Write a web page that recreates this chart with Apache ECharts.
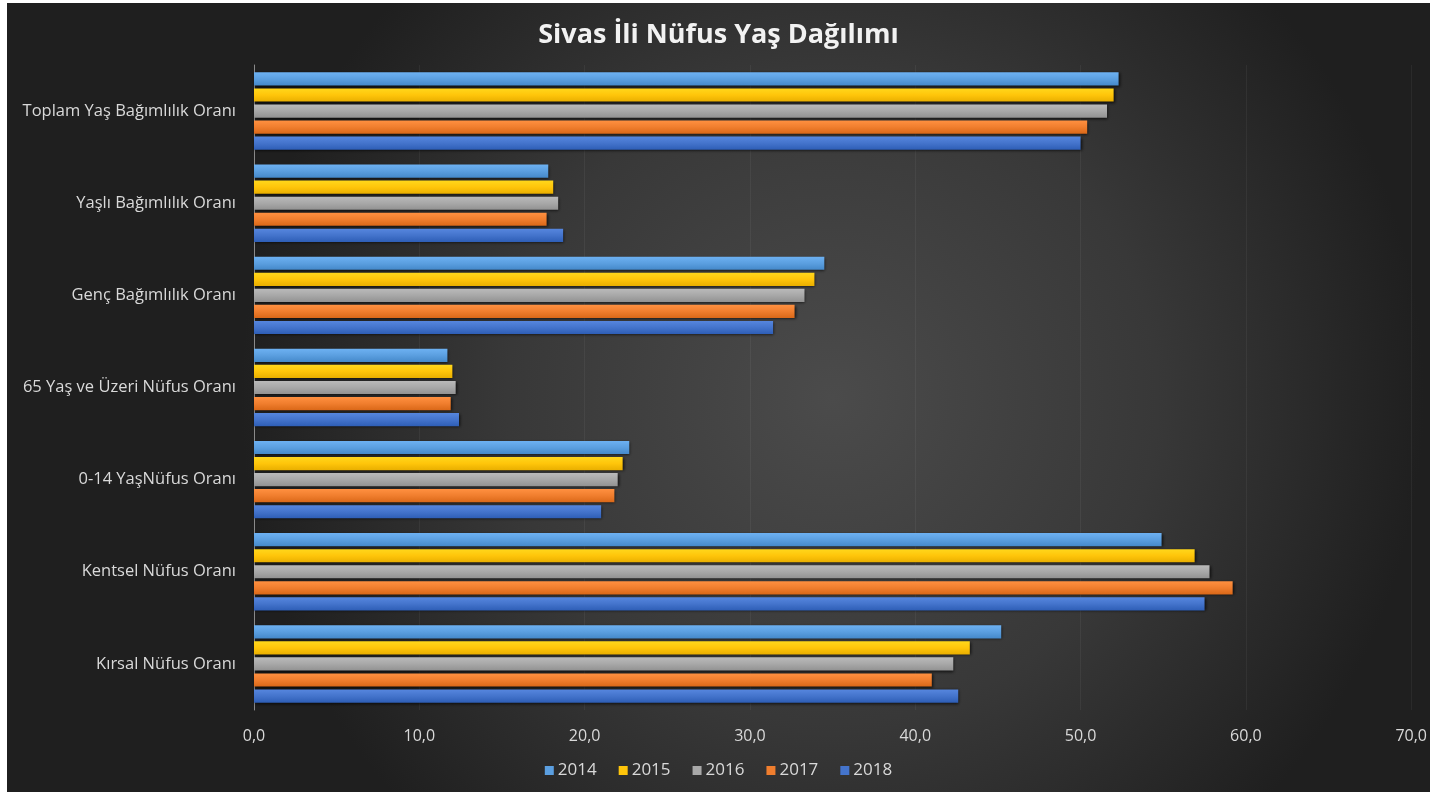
<!DOCTYPE html>
<html>
<head>
<meta charset="utf-8">
<script src="https://cdn.jsdelivr.net/npm/echarts@6/dist/echarts.min.js"></script>
<style>
  html, body { margin: 0; padding: 0; background: #ffffff; }
  #chart { position: absolute; left: 7px; top: 3px; width: 1423px; height: 789px; }
</style>
</head>
<body>
<div id="chart"></div>
<script>
// Categories, listed top to bottom
const categories = [
  'Toplam Yaş Bağımlılık Oranı',
  'Yaşlı Bağımlılık Oranı',
  'Genç Bağımlılık Oranı',
  '65 Yaş ve Üzeri Nüfus Oranı',
  '0-14 YaşNüfus Oranı',
  'Kentsel Nüfus Oranı',
  'Kırsal Nüfus Oranı'
];

const years = ['2014', '2015', '2016', '2017', '2018'];

// Ratios (%) per year, same order as categories
const values2014 = [52.3, 17.8, 34.5, 11.7, 22.7, 54.9, 45.2];
const values2015 = [52.0, 18.1, 33.9, 12.0, 22.3, 56.9, 43.3];
const values2016 = [51.6, 18.4, 33.3, 12.2, 22.0, 57.8, 42.3];
const values2017 = [50.4, 17.7, 32.7, 11.9, 21.8, 59.2, 41.0];
const values2018 = [50.0, 18.7, 31.4, 12.4, 21.0, 57.5, 42.6];

const xTicks = { min: 0, max: 70, interval: 10 };

const palette = ['#5b9fe0', '#ffc50a', '#a8a8a8', '#f07e2e', '#4474cc'];
const allValues = [values2014, values2015, values2016, values2017, values2018];

function shade(hex, amt) {
  const n = parseInt(hex.slice(1), 16);
  let r = (n >> 16) & 255, g = (n >> 8) & 255, b = n & 255;
  r = Math.max(0, Math.min(255, Math.round(r + amt)));
  g = Math.max(0, Math.min(255, Math.round(g + amt)));
  b = Math.max(0, Math.min(255, Math.round(b + amt)));
  return 'rgb(' + r + ',' + g + ',' + b + ')';
}

const series = years.map((y, i) => ({
  name: y,
  type: 'bar',
  data: allValues[i],
  barCategoryGap: '16%',
  barGap: '22%',
  itemStyle: {
    color: {
      type: 'linear', x: 0, y: 0, x2: 0, y2: 1,
      colorStops: [
        { offset: 0, color: shade(palette[i], 18) },
        { offset: 0.5, color: palette[i] },
        { offset: 1, color: shade(palette[i], -22) }
      ]
    },
    shadowColor: 'rgba(0,0,0,0.75)',
    shadowBlur: 3,
    shadowOffsetX: 1,
    shadowOffsetY: 1
  }
}));

const chart = echarts.init(document.getElementById('chart'));
chart.setOption({
  animation: false,
  backgroundColor: {
    type: 'radial', x: 0.58, y: 0.5, r: 0.75,
    colorStops: [
      { offset: 0, color: '#4b4b4b' },
      { offset: 0.55, color: '#383838' },
      { offset: 1, color: '#1f1f1f' }
    ]
  },
  color: palette,
  title: {
    text: 'Sivas İli Nüfus Yaş Dağılımı',
    left: 'center',
    top: 14,
    textStyle: {
      color: '#f2f2f2',
      fontFamily: 'Open Sans',
      fontWeight: 'bold',
      fontSize: 27
    }
  },
  legend: {
    data: years.map((y, i) => ({ name: y, itemStyle: { color: palette[i], shadowBlur: 0 } })),
    bottom: 8,
    left: 'center',
    icon: 'rect',
    itemWidth: 9,
    itemHeight: 9,
    itemGap: 22,
    textStyle: { color: '#d9d9d9', fontFamily: 'Open Sans', fontSize: 17, padding: [0, 0, 0, -1] }
  },
  grid: { left: 247, right: 15, top: 62, bottom: 82, containLabel: false },
  xAxis: {
    type: 'value',
    min: xTicks.min,
    max: xTicks.max,
    interval: xTicks.interval,
    axisLine: { show: false },
    axisTick: { show: false },
    splitLine: { show: true, lineStyle: { color: 'rgba(255,255,255,0.05)', width: 1 } },
    axisLabel: {
      color: '#d9d9d9',
      fontFamily: 'Open Sans',
      fontSize: 16,
      margin: 18,
      formatter: v => v.toFixed(1).replace('.', ',')
    }
  },
  yAxis: {
    type: 'category',
    data: categories,
    inverse: true,
    axisLine: { show: true, lineStyle: { color: '#8a8a8a', width: 1 } },
    axisTick: { show: false },
    axisLabel: {
      color: '#d9d9d9',
      fontFamily: 'Open Sans',
      fontSize: 16.5,
      margin: 18
    }
  },
  series: series
});
</script>
</body>
</html>
